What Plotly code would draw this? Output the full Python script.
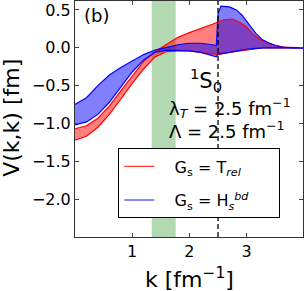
import plotly.graph_objects as go

# ---- data ----
k_red_up = [0.0, 0.2, 0.4, 0.6, 0.8, 1.0, 1.2, 1.4, 1.6, 1.8, 2.0, 2.2, 2.4, 2.5, 2.6, 2.75, 2.87, 2.99, 3.1, 3.23, 3.4, 3.5, 3.65, 4.0]
v_red_up = [-1.07, -1.03, -0.93, -0.77, -0.57, -0.37, -0.18, -0.05, 0.05, 0.14, 0.20, 0.25, 0.31, 0.34, 0.37, 0.38, 0.34, 0.28, 0.19, 0.11, 0.06, 0.03, 0.01, 0.0]
k_red_lo = [0.0, 0.2, 0.4, 0.6, 0.8, 1.0, 1.2, 1.4, 1.6, 1.8, 2.0, 2.2, 2.4, 2.5, 2.7, 2.9, 3.1, 3.3, 4.0]
v_red_lo = [-1.22, -1.17, -1.05, -0.88, -0.68, -0.47, -0.28, -0.12, -0.05, -0.04, -0.04, -0.06, -0.08, -0.09, -0.06, -0.04, -0.02, 0.0, 0.0]

k_blue_up = [0.0, 0.2, 0.4, 0.6, 0.8, 1.0, 1.2, 1.4, 1.6, 1.8, 2.0, 2.2, 2.4, 2.47, 2.5, 2.55, 2.7, 2.82, 2.92, 3.05, 3.16, 3.27, 3.4, 3.51, 3.62, 3.8, 4.0]
v_blue_up = [-0.75, -0.66, -0.50, -0.36, -0.26, -0.17, -0.09, -0.03, 0.01, 0.04, 0.06, 0.06, 0.04, 0.03, 0.45, 0.55, 0.54, 0.50, 0.43, 0.30, 0.19, 0.11, 0.06, 0.03, 0.01, 0.0, 0.0]
k_blue_lo = [0.0, 0.2, 0.4, 0.6, 0.8, 1.0, 1.2, 1.4, 1.6, 1.8, 2.0, 2.2, 2.4, 2.47, 2.5, 2.7, 2.9, 3.1, 3.3, 4.0]
v_blue_lo = [-1.02, -0.98, -0.88, -0.72, -0.52, -0.32, -0.16, -0.06, -0.03, -0.03, -0.04, -0.06, -0.10, -0.12, -0.08, -0.06, -0.03, -0.01, 0.0, 0.0]

x_ticks = [1, 2, 3]
y_ticks = [0.5, 0.0, -0.5, -1.0, -1.5, -2.0]
band_range = [1.34, 1.76]
k_dashed = 2.5
labels = ["G<sub>s</sub> = T<sub><i>rel</i></sub>", "G<sub>s</sub> = H<sub><i>s</i></sub><sup><i>bd</i></sup>"]

FONT = "DejaVu Sans"
NB = "\u00a0"
fig = go.Figure()

# fills
fig.add_trace(go.Scatter(x=k_red_lo, y=v_red_lo, mode="lines", line=dict(width=0), showlegend=False, hoverinfo="skip"))
fig.add_trace(go.Scatter(x=k_red_up, y=v_red_up, mode="lines", line=dict(width=0), fill="tonexty",
                         fillcolor="rgba(255,0,0,0.5)", showlegend=False, hoverinfo="skip"))
fig.add_trace(go.Scatter(x=k_blue_lo, y=v_blue_lo, mode="lines", line=dict(width=0), showlegend=False, hoverinfo="skip"))
fig.add_trace(go.Scatter(x=k_blue_up, y=v_blue_up, mode="lines", line=dict(width=0), fill="tonexty",
                         fillcolor="rgba(0,0,255,0.5)", showlegend=False, hoverinfo="skip"))
# edges
for kk, vv, c in [(k_red_lo, v_red_lo, "red"), (k_red_up, v_red_up, "red"),
                  (k_blue_lo, v_blue_lo, "blue"), (k_blue_up, v_blue_up, "blue")]:
    fig.add_trace(go.Scatter(x=kk, y=vv, mode="lines", line=dict(color=c, width=1.2), showlegend=False))

# legend entries
fig.add_trace(go.Scatter(x=[None], y=[None], mode="lines", line=dict(color="red", width=1),
                         name=NB * 3 + labels[0] + NB * 5, legendgroup="a"))
fig.add_trace(go.Scatter(x=[None], y=[None], mode="lines", line=dict(color="rgba(80,80,255,0.9)", width=1.5),
                         name=NB * 3 + labels[1] + NB * 5, legendgroup="b"))

fig.add_vrect(x0=band_range[0], x1=band_range[1], fillcolor="rgba(0,128,0,0.3)", line_width=0, layer="below")
fig.add_vline(x=k_dashed, line=dict(color="black", width=1.3, dash="5px,3px"), layer="above")

fig.add_annotation(text="(b)", x=0.029, y=0.937, xref="paper", yref="paper", xanchor="left", yanchor="middle",
                   showarrow=False, font=dict(size=18, family=FONT, color="black"))
fig.add_annotation(text="<sup>1</sup>S<sub>0</sub>", x=2.285, y=-0.43, xanchor="center", yanchor="middle",
                   showarrow=False, font=dict(size=21, family=FONT, color="black"))
fig.add_annotation(text="λ<sub><i>T</i></sub> = 2.5 fm<sup>−1</sup>", x=1.60, y=-0.80, xanchor="left", yanchor="middle",
                   showarrow=False, font=dict(size=18, family=FONT, color="black"))
fig.add_annotation(text="Λ = 2.5 fm<sup>−1</sup>", x=1.60, y=-1.08, xanchor="left", yanchor="middle",
                   showarrow=False, font=dict(size=18, family=FONT, color="black"))
fig.add_annotation(text="V(k,k) [fm]", x=-0.282, y=0.504, xref="paper", yref="paper", textangle=-90,
                   xanchor="center", yanchor="middle", showarrow=False, font=dict(size=22, family=FONT, color="black"))
fig.add_annotation(text="k [fm<sup>−1</sup>]", x=0.501, y=-0.172, xref="paper", yref="paper",
                   xanchor="center", yanchor="middle", showarrow=False, font=dict(size=22, family=FONT, color="black"))

fig.update_layout(
    width=304, height=291,
    margin=dict(l=75, r=1, t=1, b=54),
    paper_bgcolor="white", plot_bgcolor="white",
    font=dict(family=FONT, size=16, color="black"),
    showlegend=True,
    legend=dict(x=0.19, y=0.3755, xanchor="left", yanchor="top", bordercolor="black", borderwidth=1,
                bgcolor="white", font=dict(size=16, family=FONT), tracegroupgap=10, traceorder="grouped"),
    xaxis=dict(range=[0, 3.985], tickvals=x_ticks, ticks="inside", ticklen=4, showgrid=False, zeroline=False,
               showline=True, linecolor="#333", linewidth=1, mirror="ticks", tickfont=dict(size=16)),
    yaxis=dict(range=[-2.5, 0.618], tickvals=y_ticks, tickformat=".1f", ticks="inside", ticklen=4, showgrid=False,
               zeroline=False, showline=True, linecolor="#333", linewidth=1, mirror="ticks", tickfont=dict(size=16)),
)

fig.write_html("out.html", config={"displayModeBar": False},
               post_script="document.body.style.margin='0px';document.body.style.overflow='hidden';")
